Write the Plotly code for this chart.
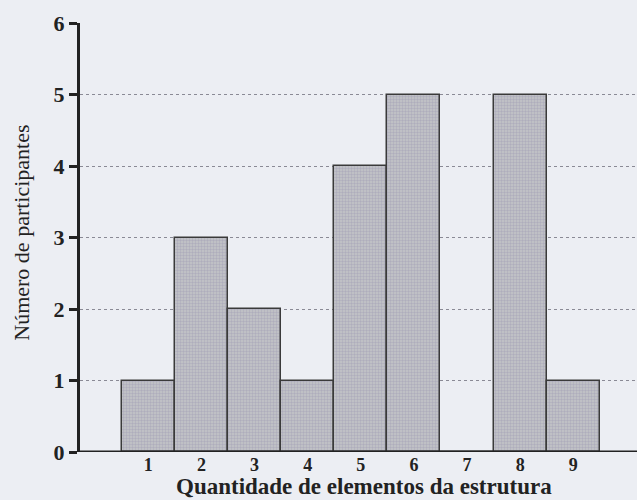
import plotly.graph_objects as go

categories = [1, 2, 3, 4, 5, 6, 7, 8, 9]
participants = [1, 3, 2, 1, 4, 5, 0, 5, 1]
tick_labels = ["1", "2", "3", "4", "5", "6", "7", "8", "9"]
x_title = "Quantidade de elementos da estrutura"
y_title = "Número de participantes"

bg = "#eceef3"
fig = go.Figure()
fig.add_trace(go.Bar(
    x=categories, y=participants, width=1.0,
    marker=dict(color="#b9b8c6", line=dict(color="#3a3a3a", width=1.5),
                pattern=dict(shape=".", fgcolor="#9a94b0", bgcolor="#c4c6c8", size=3, solidity=0.5)),
))
fig.update_layout(
    width=637, height=500,
    margin=dict(l=80, r=0, t=23, b=48),
    paper_bgcolor=bg, plot_bgcolor=bg,
    showlegend=False, bargap=0,
    font=dict(family="Liberation Serif", color="#222"),
    xaxis=dict(
        range=[-0.285, 10.2], tickmode="array", tickvals=categories, ticktext=tick_labels,
        showgrid=False, zeroline=False, showline=False, ticks="", automargin=False,
        tickfont=dict(size=18, family="Liberation Serif", color="#222", weight="bold"),
    ),
    yaxis=dict(
        range=[0, 6], dtick=1, showgrid=True, gridcolor="#8a8a95", griddash="dot", gridwidth=1,
        zeroline=False, showline=True, linecolor="#222", linewidth=3, ticks="outside", ticklen=8,
        tickcolor="#222", tickwidth=3, automargin=False,
        tickfont=dict(size=22, family="Liberation Serif", color="#222", weight="bold"),
    ),
    annotations=[
        dict(text="<b>" + x_title + "</b>", xref="paper", yref="paper", x=0.51, y=-0.115,
             xanchor="center", yanchor="bottom", showarrow=False,
             font=dict(size=23, family="Liberation Serif", color="#222")),
        dict(text=y_title, xref="paper", yref="paper", x=-0.105, y=0.51,
             xanchor="center", yanchor="middle", showarrow=False, textangle=-90,
             font=dict(size=22, family="Liberation Serif", color="#222")),
    ],
)
fig.add_hline(y=0, line=dict(color="#222", width=3))
fig.write_html("out.html", config={"displayModeBar": False},
               post_script="document.body.style.margin='0';document.body.style.background='%s';" % bg)
